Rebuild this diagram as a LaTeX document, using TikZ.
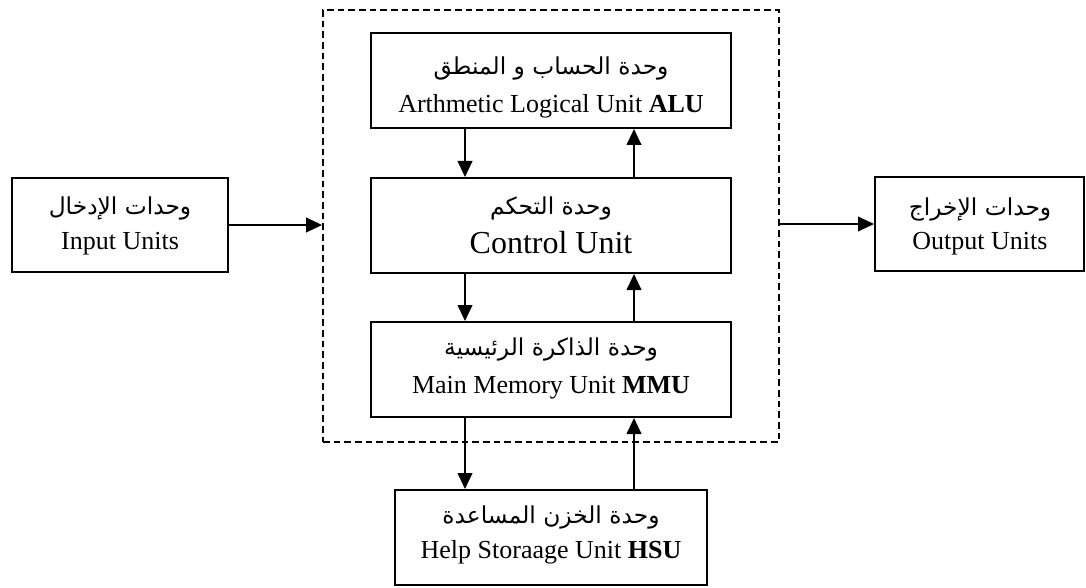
\documentclass[tikz,border=0pt]{standalone}
\usepackage{fontspec}
\setmainfont{Liberation Serif}
\newfontfamily\arabicfont[Script=Arabic]{DejaVu Sans}
\TeXXeTstate=1
\usetikzlibrary{arrows.meta,fit}
\begin{document}
\begin{tikzpicture}[x=0.75pt,y=-0.75pt,
  box/.style={draw,line width=1.5pt,inner sep=0pt},
  cpubox/.style={draw,dashed,line width=1.4pt,inner sep=0pt,dash pattern=on 5pt off 3pt},
  arr/.style={line width=1.5pt,-{Triangle[length=12pt,width=11pt]}},
  ar/.style={anchor=base,inner sep=0pt,font=\arabicfont\fontsize{17.5}{20}\selectfont},
  en/.style={anchor=base,inner sep=0pt,font=\fontsize{19.5}{22}\selectfont},
  enbig/.style={anchor=base,inner sep=0pt,font=\fontsize{24}{27}\selectfont}]
\useasboundingbox (0,0) rectangle (1086,588);
% dashed CPU boundary
\node[cpubox,fit={(323,10) (779,442)}] (cpu) {};
% boxes
\node[box,fit={(371,33) (731,128)}] (alu) {};
\node[box,fit={(371,178) (731,273)}] (cu) {};
\node[box,fit={(371,322) (731,417)}] (mmu) {};
\node[box,fit={(395,490) (707,585)}] (hsu) {};
\node[box,fit={(12,178) (228,272)}] (in) {};
\node[box,fit={(875,177) (1084,271)}] (out) {};
% texts
\node[ar] (alua) at (551,75) {\beginR وحدة الحساب و المنطق\endR};
\node[en] (alue) at (551,113) {Arthmetic Logical Unit \textbf{ALU}};
\node[ar] (cua) at (551,215) {\beginR وحدة التحكم\endR};
\node[enbig] (cue) at (551,253) {Control Unit};
\node[ar] (mmua) at (551,355) {\beginR وحدة الذاكرة الرئيسية\endR};
\node[en] (mmue) at (551,393) {Main Memory Unit \textbf{MMU}};
\node[ar] (hsua) at (551,523) {\beginR وحدة الخزن المساعدة\endR};
\node[en] (hsue) at (551,558) {Help Storaage Unit \textbf{HSU}};
\node[ar] (ina) at (120,215) {\beginR وحدات الإدخال\endR};
\node[en] (ine) at (120,250) {Input Units};
\node[ar] (outa) at (980,216) {\beginR وحدات الإخراج\endR};
\node[en] (oute) at (980,250) {Output Units};
% arrow columns
\coordinate (xl) at (465,0);
\coordinate (xr) at (634,0);
\draw[arr] (alu.south -| xl) -- (cu.north -| xl);
\draw[arr] (cu.north -| xr) -- (alu.south -| xr);
\draw[arr] (cu.south -| xl) -- (mmu.north -| xl);
\draw[arr] (mmu.north -| xr) -- (cu.south -| xr);
\draw[arr] (mmu.south -| xl) -- (hsu.north -| xl);
\draw[arr] (hsu.north -| xr) -- (mmu.south -| xr);
\draw[arr] (in.east) -- (in.east -| cpu.west);
\draw[arr] (cpu.east |- out.west) -- (out.west);
\end{tikzpicture}
\end{document}
